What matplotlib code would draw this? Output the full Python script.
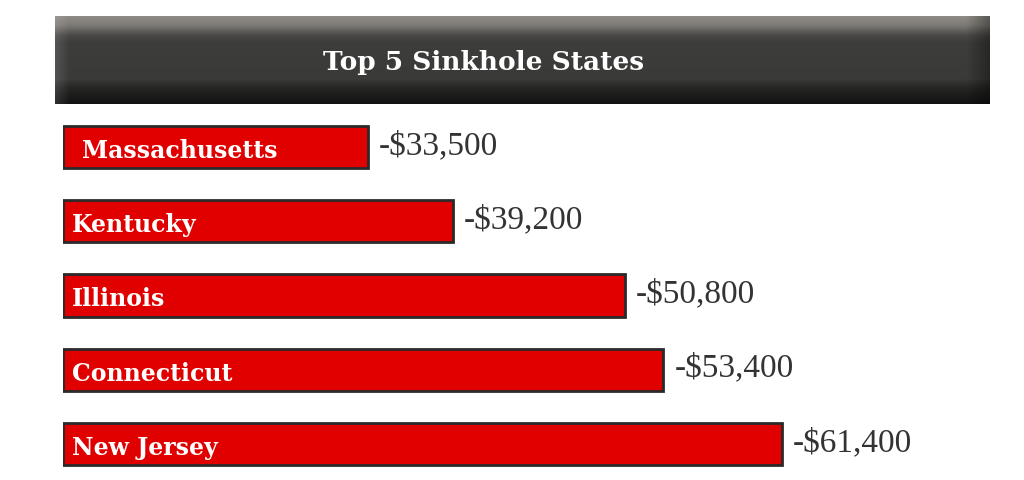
import numpy as np
import matplotlib
matplotlib.use("Agg")
import matplotlib.pyplot as plt
from matplotlib.colors import LinearSegmentedColormap

# Data
title = "Top 5 Sinkhole States"
states = ["Massachusetts", "Kentucky", "Illinois", "Connecticut", "New Jersey"]
values = [33500, 39200, 50800, 53400, 61400]
value_labels = ["-$33,500", "-$39,200", "-$50,800", "-$53,400", "-$61,400"]

W, H = 1024, 481
fig = plt.figure(figsize=(W / 100, H / 100), dpi=100)
fig.patch.set_facecolor("white")

def px_rect(x0, y0, x1, y1):
    return [x0 / W, 1 - y1 / H, (x1 - x0) / W, (y1 - y0) / H]

# Header band with gradient
hax = fig.add_axes(px_rect(55, 17, 990, 105))
hax.set_axis_off()
ny, nx = 88, 935
t = np.linspace(0, 1, ny)
stops = [(0.0, "#8d8984"), (0.10, "#7d7a75"), (0.22, "#484745"), (0.30, "#3d3d3b"),
         (0.72, "#3a3a38"), (0.82, "#262625"), (1.0, "#121212")]
vcm = LinearSegmentedColormap.from_list("hdr", stops)
col = vcm(t)[:, :3]
img = np.repeat(col[:, None, :], nx, axis=1)
xs = np.linspace(0, 1, nx)
left = np.clip(1 - xs / 0.015, 0, 1)
right = np.clip((xs - 0.975) / 0.025, 0, 1)
img = img * (1 - 0.35 * right[None, :, None]) + 0.12 * left[None, :, None] * (1 - img)
hax.imshow(img, aspect="auto", extent=[0, 1, 0, 1], interpolation="bilinear")
hax.set_xlim(0, 1)
hax.set_ylim(0, 1)
hax.text(0.458, 0.48, title, color="white", fontsize=19, fontweight="bold",
         family=["DejaVu Serif"], ha="center", va="center")

# Bar axes
x_left_val = 12955
px_per_val = 0.014845
x_right_val = x_left_val + (W - 63) / px_per_val
y0_px, dy_px = 148, 74.25
ax = fig.add_axes(px_rect(63, 110, W, H))
ax.set_axis_off()
ax.set_xlim(x_left_val, x_right_val)
ax.set_ylim((H - y0_px) / dy_px, (110 - y0_px) / dy_px)
ypos = np.arange(len(states))
bars = ax.barh(ypos, [v - x_left_val for v in values], left=x_left_val,
               height=0.566, color="#e00000", edgecolor="#2a2a2a", linewidth=2.0)
pad = 11 / px_per_val
for i, (b, s, lab) in enumerate(zip(bars, states, value_labels)):
    xoff = 19 if i == 0 else 9
    ax.text(x_left_val + xoff / px_per_val, i + 0.04, s, color="white",
            fontsize=17, fontweight="bold", family=["DejaVu Serif"],
            ha="left", va="center")
    ax.text(b.get_x() + b.get_width() + pad, i - 0.03, lab, color="#333333",
            fontsize=24, family=["Liberation Serif"], ha="left", va="center")

fig.savefig("out.png", dpi=100, facecolor="white")
